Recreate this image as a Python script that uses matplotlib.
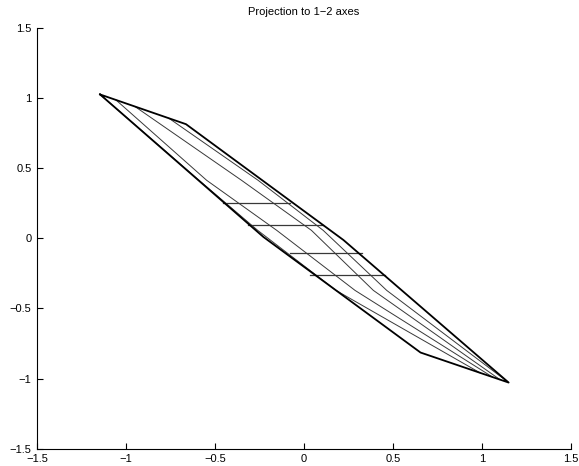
import matplotlib
matplotlib.use("Agg")
import matplotlib.pyplot as plt

plt.rcParams["font.family"] = ["Liberation Sans", "DejaVu Sans"]

# outer boundary of the projected set (closed polygon)
outline_x = [-1.146, -0.663, 0.222, 1.150, 0.655, -0.228, -1.146]
outline_y = [1.026, 0.814, -0.012, -1.028, -0.814, 0.010, 1.026]

# inner wire lines
wire_x = [
    [-1.146, -0.590, -0.260, 0.180, 0.990],
    [-1.056, -0.547, -0.153, 0.287, 1.060],
    [-0.950, -0.351, 0.042, 0.390, 1.100],
    [-0.760, -0.258, 0.108, 0.465, 1.150],
]
wire_y = [
    [1.026, 0.414, 0.057, -0.371, -0.959],
    [0.986, 0.414, 0.057, -0.371, -0.989],
    [0.940, 0.414, 0.057, -0.371, -1.006],
    [0.857, 0.414, 0.057, -0.371, -1.028],
]

# horizontal slices
slice_y = [0.255, 0.098, -0.105, -0.264]
slice_x0 = [-0.455, -0.315, -0.079, 0.034]
slice_x1 = [-0.079, 0.107, 0.326, 0.455]

tick_vals = [-1.5, -1, -0.5, 0, 0.5, 1, 1.5]
tick_text = ["\u22121.5", "\u22121", "\u22120.5", "0", "0.5", "1", "1.5"]

fig = plt.figure(figsize=(5.79, 4.66), dpi=100)
ax = fig.add_axes([0.064, 0.037, 0.922, 0.903])

for xs, ys in zip(wire_x, wire_y):
    ax.plot(xs, ys, color="#383838", linewidth=0.7)
for y, x0, x1 in zip(slice_y, slice_x0, slice_x1):
    ax.plot([x0, x1], [y, y], color="#383838", linewidth=0.9)
ax.plot(outline_x, outline_y, color="black", linewidth=1.3)

ax.set_xlim(-1.5, 1.5)
ax.set_ylim(-1.5, 1.5)
ax.set_xticks(tick_vals)
ax.set_yticks(tick_vals)
ax.set_xticklabels(tick_text)
ax.set_yticklabels(tick_text)
ax.tick_params(direction="in", length=4, labelsize=8)
ax.tick_params(axis="x", pad=4)
ax.tick_params(axis="y", pad=4)
ax.spines["top"].set_visible(False)
ax.spines["right"].set_visible(False)
ax.set_title("Projection to 1\u22122 axes", fontsize=8, pad=9)

fig.savefig("out.png", dpi=100)
